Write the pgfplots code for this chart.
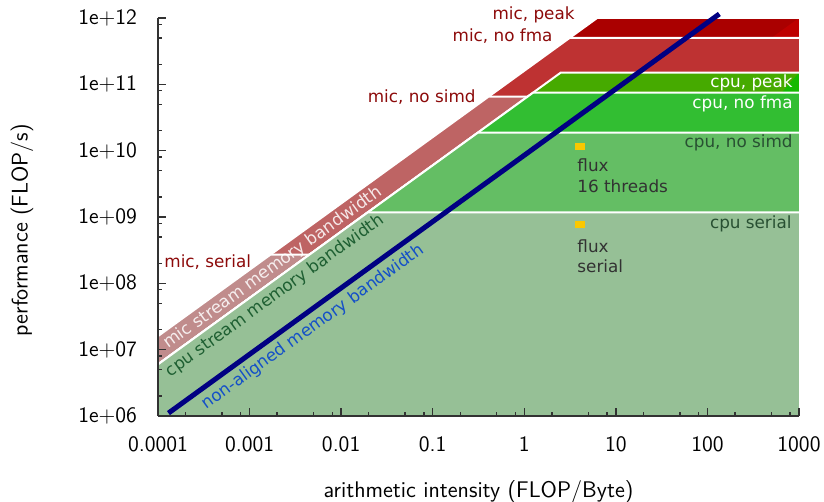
\documentclass[border=0pt]{standalone}
\usepackage{pgfplots}
\pgfplotsset{compat=1.18}
\usepackage{fontspec}
\newfontfamily\dejavu{DejaVu Sans}
\definecolor{micpeak}{RGB}{170,0,0}
\definecolor{micpeaktri}{RGB}{190,0,0}
\definecolor{micnofma}{RGB}{190,50,50}
\definecolor{micnosimd}{RGB}{190,100,100}
\definecolor{micserial}{RGB}{192,140,140}
\definecolor{cpupeak}{RGB}{70,170,0}
\definecolor{cpupeaktri}{RGB}{20,185,0}
\definecolor{cpunofma}{RGB}{50,190,50}
\definecolor{cpunosimd}{RGB}{100,190,100}
\definecolor{cpuserial}{RGB}{150,192,150}
\definecolor{naline}{RGB}{0,0,130}
\definecolor{fluxc}{RGB}{250,200,0}
\definecolor{miclab}{RGB}{140,10,10}
\definecolor{cpudark}{RGB}{40,80,50}
\definecolor{cpustream}{RGB}{30,95,50}
\definecolor{nalab}{RGB}{20,80,200}
\definecolor{fluxlab}{RGB}{50,50,50}
\definecolor{axc}{RGB}{50,50,50}
\tikzset{lab/.style={font=\fontsize{8.4}{10}\dejavu, inner sep=0pt}}
\begin{document}
\begin{tikzpicture}
\begin{axis}[
  scale only axis, width=320.5pt, height=199pt,
  xmode=log, ymode=log,
  xmin=1e-4, xmax=1e3, ymin=1e6, ymax=1e12,
  axis x line*=bottom, axis y line*=left,
  axis line style={-, axc, line width=1pt},
  axis on top, clip=false,
  tick align=inside,
  major tick length=4pt, minor tick length=2pt,
  tick style={axc, line width=0.75pt},
  xtick={1e-4,1e-3,1e-2,1e-1,1,10,100,1000},
  xticklabels={0.0001,0.001,0.01,0.1,1,10,100,1000},
  ytick={1e6,1e7,1e8,1e9,1e10,1e11,1e12},
  yticklabels={1e+06,1e+07,1e+08,1e+09,1e+10,1e+11,1e+12},
  minor xtick={2e-4,5e-4,8e-4,2e-3,5e-3,8e-3,0.02,0.05,0.08,0.2,0.5,0.8,2,5,8,20,50,80,200,500,800},
  minor ytick={2e6,5e6,8e6,2e7,5e7,8e7,2e8,5e8,8e8,2e9,5e9,8e9,2e10,5e10,8e10,2e11,5e11,8e11},
  tick label style={font=\fontsize{11}{13}\selectfont\sffamily},
  xticklabel style={yshift=-7pt},
  yticklabel style={xshift=-7pt},
  xlabel={arithmetic intensity (FLOP/Byte)},
  ylabel={performance (FLOP/s)},
  every axis x label/.style={at={(axis description cs:0.5,-0.19)}, anchor=center, font=\fontsize{11.3}{13}\selectfont\sffamily},
  every axis y label/.style={at={(axis description cs:-0.212,0.467)}, anchor=center, rotate=90, font=\fontsize{11.3}{13}\selectfont\sffamily},
]
% mic peak
\addplot[fill=micpeak, draw=none] coordinates {(1e-4,1e6) (1e-4,1.6e7) (6.25,1e12) (1000,1e12) (1000,1e6)} -- cycle;
\addplot[fill=micpeaktri, draw=none] coordinates {(500,5e11) (1000,1e12) (1000,5e11)} -- cycle;
\addplot[white, line width=1pt] coordinates {(1e-4,1.6e7) (6.25,1e12) (1000,1e12)};
% mic no fma
\addplot[fill=micnofma, draw=none] coordinates {(1e-4,1e6) (1e-4,1.6e7) (3.125,5e11) (1000,5e11) (1000,1e6)} -- cycle;
\addplot[white, line width=1pt] coordinates {(1e-4,1.6e7) (3.125,5e11) (1000,5e11)};
% mic no simd
\addplot[fill=micnosimd, draw=none] coordinates {(1e-4,1e6) (1e-4,1.6e7) (0.40625,6.5e10) (1000,6.5e10) (1000,1e6)} -- cycle;
\addplot[white, line width=1pt] coordinates {(1e-4,1.6e7) (0.40625,6.5e10) (1000,6.5e10)};
% mic serial
\addplot[fill=micserial, draw=none] coordinates {(1e-4,1e6) (1e-4,1.6e7) (1.6875e-3,2.7e8) (1000,2.7e8) (1000,1e6)} -- cycle;
\addplot[white, line width=1pt] coordinates {(1e-4,1.6e7) (1.6875e-3,2.7e8) (1000,2.7e8)};
% cpu peak
\addplot[fill=cpupeak, draw=none] coordinates {(1e-4,1e6) (1e-4,6e6) (2.5,1.5e11) (1000,1.5e11) (1000,1e6)} -- cycle;
\addplot[fill=cpupeaktri, draw=none] coordinates {(650,7.5e10) (1000,1.5e11) (1000,7.5e10)} -- cycle;
\addplot[white, line width=1pt] coordinates {(1e-4,6e6) (2.5,1.5e11) (1000,1.5e11)};
% cpu no fma
\addplot[fill=cpunofma, draw=none] coordinates {(1e-4,1e6) (1e-4,6e6) (1.25,7.5e10) (1000,7.5e10) (1000,1e6)} -- cycle;
\addplot[white, line width=1pt] coordinates {(1e-4,6e6) (1.25,7.5e10) (1000,7.5e10)};
% cpu no simd
\addplot[fill=cpunosimd, draw=none] coordinates {(1e-4,1e6) (1e-4,6e6) (0.3125,1.875e10) (1000,1.875e10) (1000,1e6)} -- cycle;
\addplot[white, line width=1pt] coordinates {(1e-4,6e6) (0.3125,1.875e10) (1000,1.875e10)};
% cpu serial
\addplot[fill=cpuserial, draw=none] coordinates {(1e-4,1e6) (1e-4,6e6) (0.0195,1.17e9) (1000,1.17e9) (1000,1e6)} -- cycle;
\addplot[white, line width=1pt] coordinates {(1e-4,6e6) (0.0195,1.17e9) (1000,1.17e9)};
% non-aligned memory bandwidth
\addplot[naline, line width=2.5pt] coordinates {(1.3e-4,1.105e6) (135,1.15e12)};
% flux measurements
\addplot[only marks, mark=square*, mark size=1.5pt, mark options={xscale=1.5, fill=fluxc, draw=fluxc}] coordinates {(4,1.15e10) (4,7.8e8)};
% labels
\node[lab, anchor=east, miclab] at (axis description cs:0.6505,1.0075) {mic, peak};
\node[lab, anchor=east, miclab] at (axis description cs:0.616,0.9548) {mic, no fma};
\node[lab, anchor=east, miclab] at (axis description cs:0.496,0.8023) {mic, no simd};
\node[lab, anchor=west, miclab] at (axis description cs:0.0094,0.387) {mic, serial};
\node[lab, anchor=east, white] at (axis description cs:0.9906,0.8367) {cpu, peak};
\node[lab, anchor=east, white] at (axis description cs:0.9906,0.7839) {cpu, no fma};
\node[lab, anchor=east, cpudark] at (axis description cs:0.9906,0.686) {cpu, no simd};
\node[lab, anchor=east, cpudark] at (axis description cs:0.9890,0.4824) {cpu serial};
\node[lab, anchor=west, fluxlab] at (axis description cs:0.6537,0.6307) {flux};
\node[lab, anchor=west, fluxlab] at (axis description cs:0.6537,0.578) {16 threads};
\node[lab, anchor=west, fluxlab] at (axis description cs:0.6537,0.4254) {flux};
\node[lab, anchor=west, fluxlab] at (axis description cs:0.6537,0.375) {serial};
\node[lab, rotate=35.84, white, opacity=0.85] at (axis description cs:0.1794,0.3719) {mic stream memory bandwidth};
\node[lab, rotate=35.84, cpustream] at (axis description cs:0.1825,0.3015) {cpu stream memory bandwidth};
\node[lab, rotate=35.84, nalab] at (axis description cs:0.2420,0.2230) {non-aligned memory bandwidth};
\coordinate (BL) at (axis description cs:-0.2465,-0.2161);
\coordinate (TR) at (axis description cs:1.0390,1.0452);
\end{axis}
\pgfresetboundingbox
\useasboundingbox (BL) rectangle (TR);
\end{tikzpicture}
\end{document}
